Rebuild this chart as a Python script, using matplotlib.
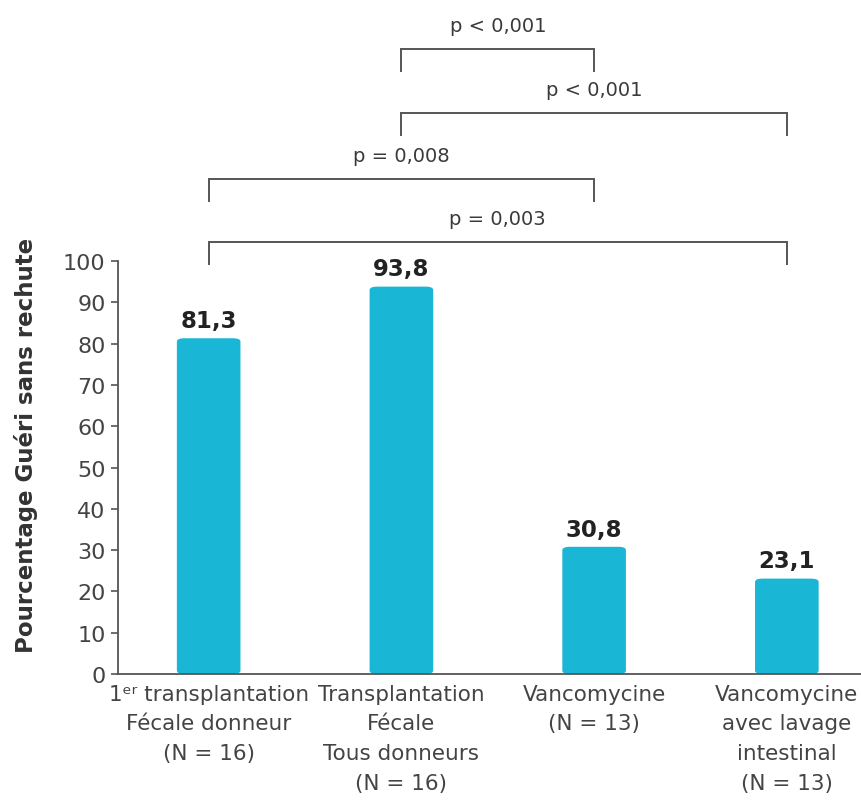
import matplotlib
matplotlib.use("Agg")
import matplotlib.pyplot as plt
from matplotlib.patches import FancyBboxPatch

plt.rcParams['font.family'] = ['DejaVu Sans']

categories = [
    "1ᵉʳ transplantation\nFécale donneur\n(N = 16)",
    "Transplantation\nFécale\nTous donneurs\n(N = 16)",
    "Vancomycine\n(N = 13)",
    "Vancomycine\navec lavage\nintestinal\n(N = 13)",
]
values = [81.3, 93.8, 30.8, 23.1]
value_labels = ["81,3", "93,8", "30,8", "23,1"]
yticks = [0, 10, 20, 30, 40, 50, 60, 70, 80, 90, 100]

# comparisons: (i, j, label, level height)
comparisons = [
    (1, 2, "p < 0,001", 151.3),
    (1, 3, "p < 0,001", 135.8),
    (0, 2, "p = 0,008", 119.8),
    (0, 3, "p = 0,003", 104.6),
]

bar_color = "#19b6d6"
text_color = "#3a3a3a"

fig = plt.figure(figsize=(8.62, 8.03), dpi=100)
ax = fig.add_axes([0.137, 0.1594, 0.863, 0.5143])

x = list(range(len(values)))
bars = ax.bar(x, values, width=0.33, color=bar_color, zorder=2)
for b in bars:
    b.set_visible(False)
    fb = FancyBboxPatch((b.get_x(), 0), b.get_width(), b.get_height(),
                        boxstyle="round,pad=0,rounding_size=0.04",
                        mutation_aspect=20, facecolor=bar_color,
                        edgecolor="none", zorder=2)
    ax.add_patch(fb)

for xi, v, lab in zip(x, values, value_labels):
    ax.text(xi, v + 1.5, lab, ha="center", va="bottom", fontsize=16.5,
            fontweight="bold", color="#222222")

ax.set_xlim(-0.47, 3.39)
ax.set_ylim(0, 100)
ax.set_yticks(yticks)
ax.set_yticklabels([str(t) for t in yticks], fontsize=16, color="#444444")
ax.set_xticks(x)
ax.set_xticklabels(categories, fontsize=15.5, color="#444444", linespacing=1.6, va="top")
ax.tick_params(axis="x", length=0, pad=7)
ax.tick_params(axis="y", length=5, width=1.2, color="#555555", pad=4)
for s in ["top", "right"]:
    ax.spines[s].set_visible(False)
for s in ["left", "bottom"]:
    ax.spines[s].set_color("#555555")
    ax.spines[s].set_linewidth(1.3)

ax.set_ylabel("Pourcentage Guéri sans rechute", fontsize=16.5, fontweight="bold",
              color="#333333")
ax.yaxis.set_label_coords(-0.108, 0.555)

drop = 5.3
for i, j, lab, h in comparisons:
    ax.plot([i, i, j, j], [h - drop, h, h, h - drop], color="#555555",
            lw=1.4, clip_on=False, solid_joinstyle="miter")
    ax.text((i + j) / 2, h + 5.8, lab, ha="center", va="center",
            fontsize=14, color=text_color, clip_on=False)

fig.savefig("out.png", dpi=100)
